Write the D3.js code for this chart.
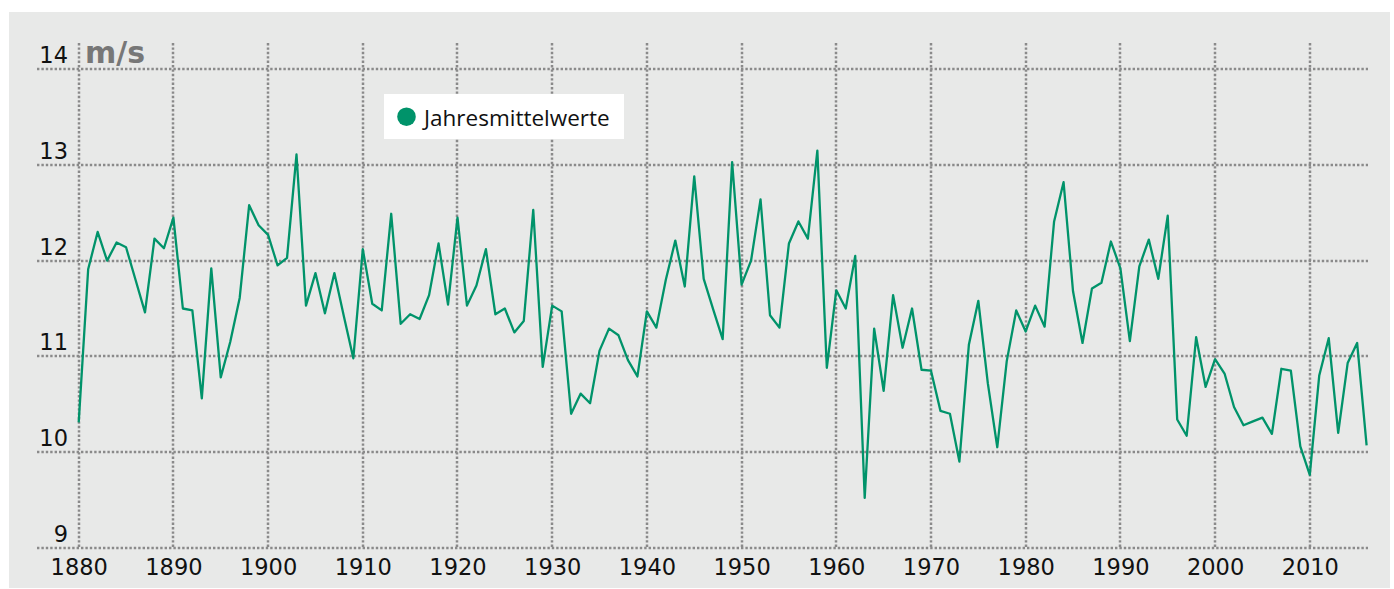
<!DOCTYPE html>
<html>
<head>
<meta charset="utf-8">
<script src="https://cdn.jsdelivr.net/npm/d3@7"></script>
<style>
  body { margin: 0; background: #fff; }
  svg { display: block; }
</style>
</head>
<body>
<div class="svg-div"></div>
<script>
// Jahresmittelwerte der Windgeschwindigkeit (m/s), 1880-2016
const years = d3.range(1880, 2017)
const values = [
  10.31, 11.91, 12.30, 12.00, 12.19, 12.14, 11.80, 11.46, 12.23, 12.13,
  12.45, 11.50, 11.48, 10.56, 11.92, 10.78, 11.15, 11.61, 12.58, 12.37,
  12.27, 11.95, 12.03, 13.11, 11.53, 11.87, 11.45, 11.87, 11.42, 10.98,
  12.12, 11.55, 11.48, 12.49, 11.34, 11.44, 11.39, 11.64, 12.18, 11.54,
  12.45, 11.53, 11.74, 12.12, 11.44, 11.50, 11.25, 11.37, 12.53, 10.89,
  11.53, 11.47, 10.40, 10.61, 10.51, 11.06, 11.29, 11.22, 10.96, 10.79,
  11.47, 11.30, 11.80, 12.21, 11.73, 12.88, 11.81, 11.49, 11.18, 13.03,
  11.75, 12.00, 12.64, 11.43, 11.30, 12.18, 12.41, 12.23, 13.15, 10.88,
  11.69, 11.50, 12.05, 9.52, 11.29, 10.64, 11.64, 11.09, 11.50, 10.86,
  10.85, 10.43, 10.40, 9.90, 11.12, 11.58, 10.72, 10.05, 10.95, 11.48,
  11.26, 11.53, 11.31, 12.41, 12.82, 11.68, 11.14, 11.71, 11.77, 12.20,
  11.92, 11.16, 11.94, 12.22, 11.81, 12.47, 10.34, 10.17, 11.20, 10.68,
  10.97, 10.82, 10.47, 10.28, 10.32, 10.36, 10.19, 10.87, 10.85, 10.06,
  9.76, 10.80, 11.19, 10.20, 10.93, 11.14, 10.07
]
const yTicks = [9, 10, 11, 12, 13, 14]
const xTicks = d3.range(1880, 2011, 10)
const unitLabel = 'm/s'
const legendLabel = 'Jahresmittelwerte'

const w = 1394
const h = 589
const green = '#00936a'
const gridColor = '#8a8a8a'

const svg = d3.select('.svg-div')
    .append('svg')
    .attr('width', w)
    .attr('height', h)

svg.append('rect')
    .attr('x', 9)
    .attr('y', 12)
    .attr('width', 1381)
    .attr('height', 576)
    .attr('fill', '#e8e9e8')

const xScale = d3.scaleLinear()
    .domain([1880, 2016])
    .range([78.7, 1366.6])

const yScale = d3.scaleLinear()
    .domain([9, 14])
    .range([547.7, 69.3])

// dotted grid
const grid = svg.append('g')
    .attr('stroke', gridColor)
    .attr('stroke-width', 2.5)
    .attr('stroke-dasharray', '2.4,2')

grid.selectAll('.vgrid')
    .data(xTicks)
    .enter()
    .append('line')
    .attr('class', 'vgrid')
    .attr('x1', d => Math.round(xScale(d)))
    .attr('x2', d => Math.round(xScale(d)))
    .attr('y1', 43)
    .attr('y2', yScale(9))

grid.selectAll('.hgrid')
    .data(yTicks)
    .enter()
    .append('line')
    .attr('class', 'hgrid')
    .attr('x1', 37)
    .attr('x2', 1368)
    .attr('y1', d => Math.round(yScale(d)))
    .attr('y2', d => Math.round(yScale(d)))

// axes (labels only, domain and ticks hidden)
const yAxis = d3.axisLeft(yScale).tickValues(yTicks).tickSize(0).tickPadding(0).tickFormat(d3.format('d'))
const xAxis = d3.axisBottom(xScale).tickValues(xTicks).tickSize(0).tickFormat(d3.format('d'))

const gy = svg.append('g')
    .attr('id', 'y-axis')
    .attr('transform', 'translate(68,0)')
    .call(yAxis)
gy.select('.domain').remove()
gy.selectAll('text')
    .attr('dy', -6.5)
    .attr('font-family', 'DejaVu Sans')
    .attr('font-size', 22.5)
    .attr('fill', '#111')

const gx = svg.append('g')
    .attr('id', 'x-axis')
    .attr('transform', 'translate(0,' + yScale(9) + ')')
    .call(xAxis)
gx.select('.domain').remove()
gx.selectAll('text')
    .attr('y', 27.5)
    .attr('dy', 0)
    .attr('font-family', 'DejaVu Sans')
    .attr('font-size', 22.5)
    .attr('fill', '#111')

svg.append('text')
    .attr('x', 85)
    .attr('y', 62.5)
    .attr('font-family', 'DejaVu Sans')
    .attr('font-weight', 'bold')
    .attr('font-size', 30)
    .attr('fill', '#777')
    .text(unitLabel)

// line
const line = d3.line()
    .x((d, i) => xScale(years[i]))
    .y(d => yScale(d))

svg.append('path')
    .datum(values)
    .attr('d', line)
    .attr('fill', 'none')
    .attr('stroke', green)
    .attr('stroke-width', 2.3)
    .attr('stroke-linejoin', 'round')

// legend
const legend = svg.append('g')
legend.append('rect')
    .attr('x', 384)
    .attr('y', 94)
    .attr('width', 240)
    .attr('height', 45)
    .attr('fill', '#fff')
legend.append('circle')
    .attr('cx', 406.5)
    .attr('cy', 116.7)
    .attr('r', 9.3)
    .attr('fill', green)
legend.append('text')
    .attr('x', 424)
    .attr('y', 126)
    .attr('font-family', 'Open Sans')
    .attr('font-size', 22.5)
    .attr('fill', '#111')
    .text(legendLabel)
</script>
</body>
</html>
